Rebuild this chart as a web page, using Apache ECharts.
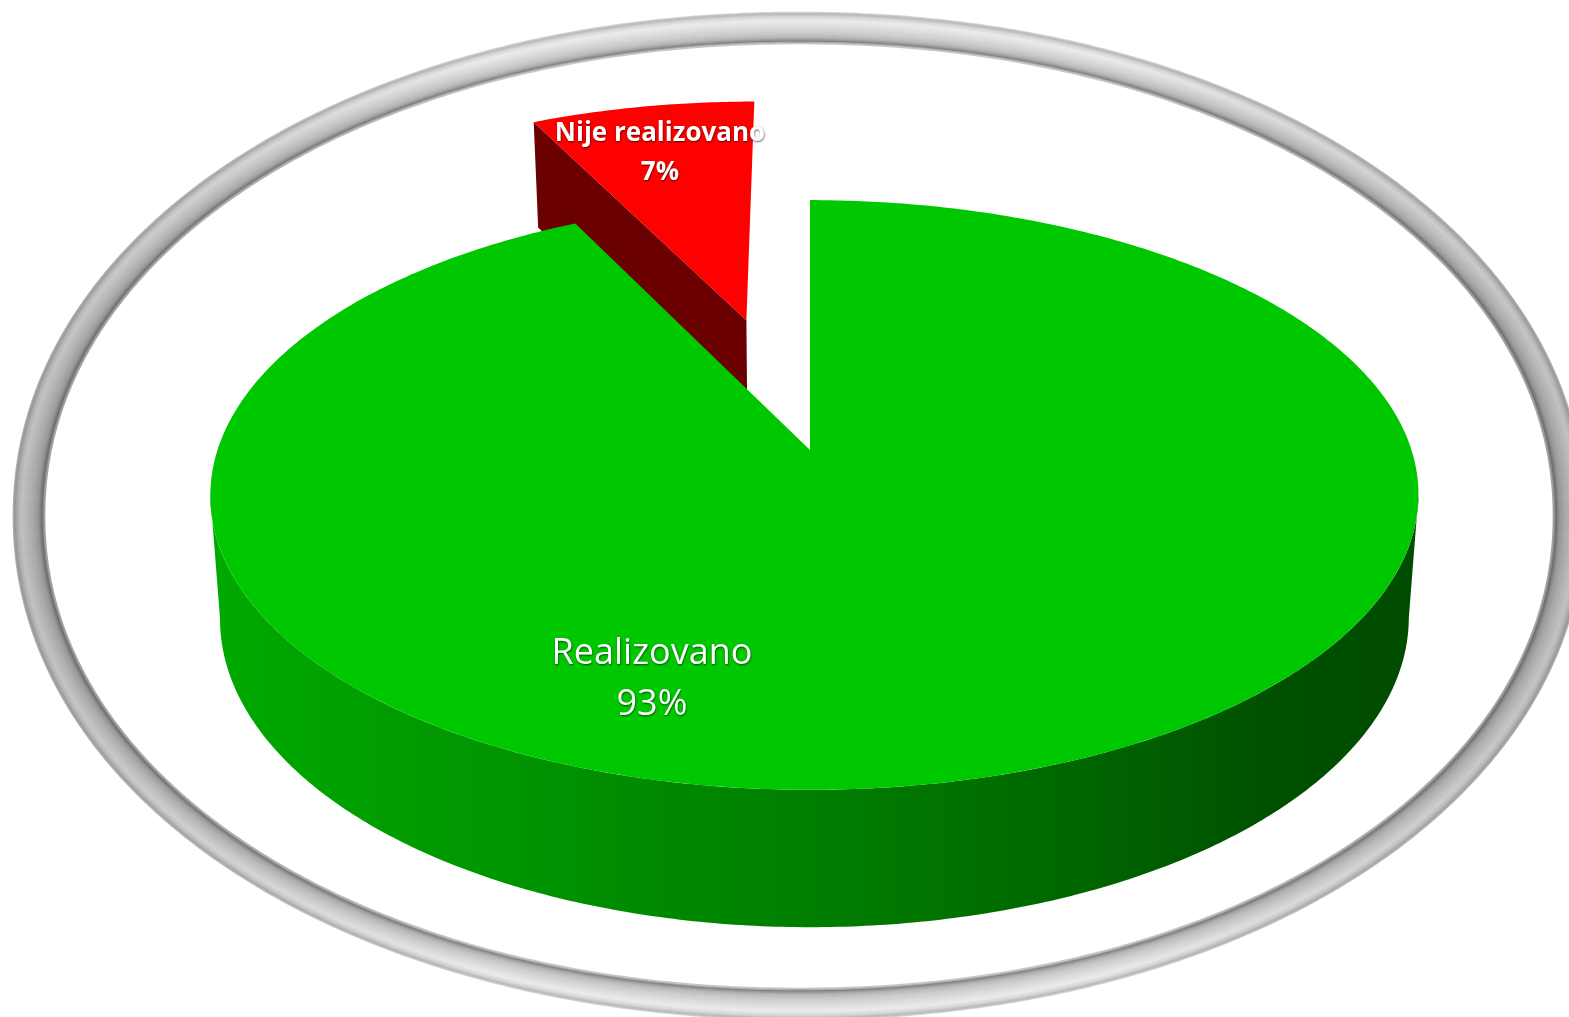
<!DOCTYPE html>
<html><head><meta charset="utf-8">
<style>html,body{margin:0;padding:0;background:#fff}#c{width:1569px;height:1017px}</style>
<script src="https://cdn.jsdelivr.net/npm/echarts@6/dist/echarts.min.js"></script>
</head><body><div id="c"></div>
<script>
const categories = ['Realizovano', 'Nije realizovano'];
const seriesValues = [92.6, 7.4];
const explodeBy = [0, 0.497];

// projection of the tilted disc
const P = {cx: 810, cy: 450, a: 597, b: 288, k: 0.1525, depth: 121, shrink: 0.984, bulge: 4.5};
function project(u, v, low) {
  const s = 1 / (1 - P.k * v), f = low ? P.shrink : 1;
  return [P.cx + f * P.a * u * s + P.bulge * u * u, P.cy + f * P.b * v * s + (low ? P.depth * s : 0)];
}
function rim(theta, off, low) {
  return project(off[0] + Math.sin(theta), off[1] - Math.cos(theta), low);
}
function arc(t0, t1, off, low) {
  const n = Math.max(2, Math.ceil(Math.abs(t1 - t0) / 0.01)), pts = [];
  for (let i = 0; i <= n; i++) pts.push(rim(t0 + (t1 - t0) * i / n, off, low));
  return pts;
}
const total = seriesValues.reduce((a, b) => a + b, 0);
const R = Math.PI / 180;
const grad = (stops) => new echarts.graphic.LinearGradient(0, 0, 1, 0, stops.map(s => ({offset: s[0], color: s[1]})));

const labelPos = [[[652, 654], [652, 705]], [[660, 134], [660, 173]]];
const labelFont = [{fontSize: 36, fontWeight: 'normal', fontFamily: 'Open Sans'}, {fontSize: 26, fontWeight: 'bold', fontFamily: 'Open Sans'}];

function sliceGroup(idx) {
  let start = 0;
  for (let i = 0; i < idx; i++) start += seriesValues[i];
  const t0 = start / total * 2 * Math.PI, t1 = (start + seriesValues[idx]) / total * 2 * Math.PI;
  const mid = (t0 + t1) / 2, e = explodeBy[idx];
  const off = [e * Math.sin(mid), -e * Math.cos(mid)];
  const children = [];
  if (idx === 0) {
    const a0 = 98.8 * R, a1 = 261.2 * R;
    children.push({type: 'polygon',
      shape: {points: arc(a0, a1, off, false).concat(arc(a1, a0, off, true))},
      style: {fill: grad([[0, '#00aa00'], [0.25, '#009400'], [0.5, '#007e00'], [0.72, '#006600'], [0.88, '#005000'], [1, '#004c00']])}});
  } else {
    const centre = project(off[0], off[1], false), centreLow = project(off[0], off[1], true);
    const a = rim(t0, off, false), aL = rim(t0, off, true);
    children.push({type: 'polygon', shape: {points: [a, centre, centreLow, aL]},
      style: {fill: '#6a0000'}});
  }
  const top = [project(off[0], off[1], false)].concat(arc(t0, t1, off, false));
  children.push({type: 'polygon', shape: {points: top},
    style: {fill: idx === 0 ? '#00c800' : '#ff0000'}});
  return {type: 'group', children};
}
function labelGroup(idx) {
  const lines = [categories[idx], Math.round(seriesValues[idx] / total * 100) + '%'];
  return {type: 'group', children: lines.map((t, i) => ({type: 'text', z2: 10,
    style: Object.assign({text: t, x: labelPos[idx][i][0], y: labelPos[idx][i][1], align: 'center', verticalAlign: 'middle',
      fill: '#fff', textShadowColor: 'rgba(0,0,0,0.6)', textShadowBlur: 2, textShadowOffsetX: 0.5, textShadowOffsetY: 0.5}, labelFont[idx])}))};
}

// silver frame
const Frame = {cx: 799, cy: 516, rx: 770, ry: 488, n: 2.05};
const profile = [[-16,'#d8d8d8'],[-14,'#b0b0b0'],[-11,'#d0d0d0'],[-7,'#e4e4e4'],[-1,'#d6d6d6'],[5,'#c6c6c6'],[10,'#b0b0b0'],[13.5,'#808080'],[16,'#d0d0d0']];
function shade(hex, f) {
  const c = Math.min(255, Math.round(parseInt(hex.slice(1, 3), 16) * f));
  return 'rgb(' + c + ',' + c + ',' + c + ')';
}
function frameGraphics() {
  const out = [];
  for (let d = -15.5; d <= 15.5; d += 1) {
    let j = 0;
    while (j < profile.length - 2 && profile[j + 1][0] < d) j++;
    const p0 = profile[j], p1 = profile[j + 1];
    const m = Math.min(1, Math.max(0, (d - p0[0]) / (p1[0] - p0[0])));
    const c0 = parseInt(p0[1].slice(1, 3), 16), c1 = parseInt(p1[1].slice(1, 3), 16);
    const g = Math.round(c0 + (c1 - c0) * m);
    const hex = '#' + g.toString(16).padStart(2, '0').repeat(3);
    const pts = [];
    for (let i = 0; i < 720; i++) {
      const t = i / 720 * 2 * Math.PI, c = Math.cos(t), s = Math.sin(t), e = 2 / Frame.n;
      pts.push([Frame.cx + (Frame.rx - d) * Math.sign(c) * Math.pow(Math.abs(c), e),
                Frame.cy + (Frame.ry - d) * Math.sign(s) * Math.pow(Math.abs(s), e)]);
    }
    out.push({type: 'polygon', shape: {points: pts}, silent: true,
      style: {fill: 'none', lineWidth: 1.7,
        stroke: new echarts.graphic.LinearGradient(0, 0, 1, 0, [
          {offset: 0, color: shade(hex, 0.84)}, {offset: 0.3, color: shade(hex, 1.03)},
          {offset: 0.7, color: shade(hex, 1.03)}, {offset: 1, color: shade(hex, 0.84)}])}});
  }
  return out;
}

const chart = echarts.init(document.getElementById('c'), null, {renderer: 'canvas'});
chart.setOption({
  animation: false,
  backgroundColor: '#fff',
  graphic: {elements: frameGraphics()},
  series: [{
    type: 'custom', coordinateSystem: 'none', silent: true,
    data: [1, 0].map(i => ({value: i, name: categories[i]})),
    renderItem: (params, api) => sliceGroup(api.value(0))
  }, {
    type: 'custom', coordinateSystem: 'none', silent: true, z: 5,
    data: categories.map((c, i) => ({value: i, name: c})),
    renderItem: (params, api) => labelGroup(api.value(0))
  }]
});
</script></body></html>
